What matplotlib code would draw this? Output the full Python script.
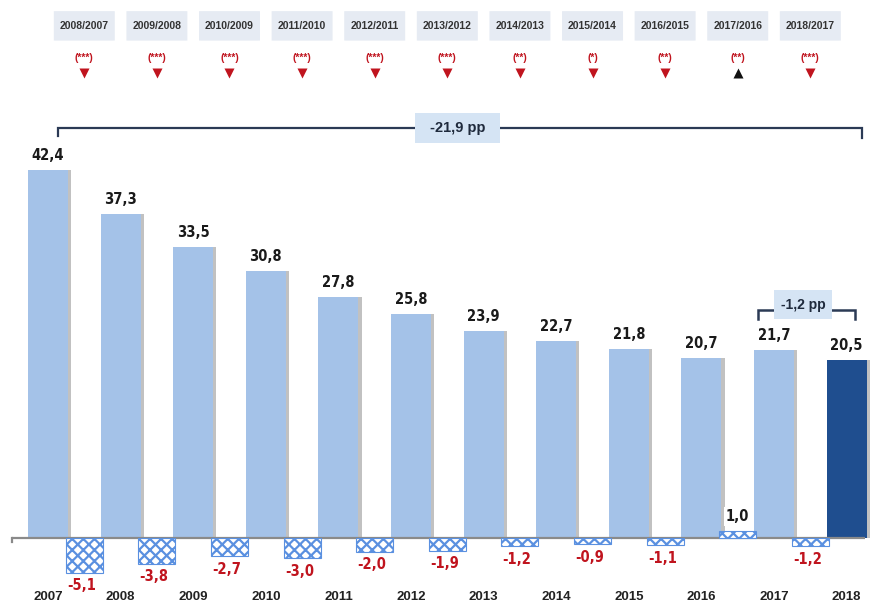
import matplotlib
matplotlib.use("Agg")
import matplotlib.pyplot as plt
from matplotlib.patches import FancyBboxPatch, Rectangle

# taxa anual (%) e variação face ao ano anterior (pp)
anos = ["2007", "2008", "2009", "2010", "2011", "2012",
        "2013", "2014", "2015", "2016", "2017", "2018"]
taxas = [42.4, 37.3, 33.5, 30.8, 27.8, 25.8, 23.9, 22.7, 21.8, 20.7, 21.7, 20.5]
variacoes = [-5.1, -3.8, -2.7, -3.0, -2.0, -1.9, -1.2, -0.9, -1.1, 1.0, -1.2]
periodos = ["2008/2007", "2009/2008", "2010/2009", "2011/2010", "2012/2011",
            "2013/2012", "2014/2013", "2015/2014", "2016/2015", "2017/2016",
            "2018/2017"]
signif = ["(***)", "(***)", "(***)", "(***)", "(***)", "(***)",
          "(**)", "(*)", "(**)", "(**)", "(***)"]
total_pp = "-21,9 pp"
ultimo_pp = "-1,2 pp"

AZUL = "#a4c2e8"
AZUL_ESC = "#1f4e8f"
VERMELHO = "#c0141e"
NARROW = ["Liberation Sans Narrow", "DejaVu Sans"]
SANS = ["Liberation Sans", "DejaVu Sans"]

plt.rcParams["hatch.linewidth"] = 1.6


def fmt(v):
    return f"{v:.1f}".replace(".", ",")


def caixa(ax, xc, yc, w, h, texto, fs):
    ax.add_patch(Rectangle((xc - w / 2, yc - h / 2), w, h, fc="#d5e4f4",
                           ec="none", zorder=3))
    ax.text(xc, yc, texto, ha="center", va="center", fontsize=fs,
            fontweight="bold", color="#1f2a3c", family=SANS, zorder=4)


fig = plt.figure(figsize=(8.74, 6.06), dpi=100)
ax = fig.add_axes([0, 0, 1, 1])
ax2 = fig.add_axes([0, 0, 1, 1], sharex=ax)
ax2.patch.set_visible(False)
for a in (ax, ax2):
    a.axis("off")

ax.set_xlim(-0.661, 11.377)
ax.set_ylim(-7.83, 61.98)
ax2.set_ylim(-10.0, 79.1)

x = list(range(len(anos)))
cores = [AZUL] * (len(anos) - 1) + [AZUL_ESC]

# sombra + barras das taxas
ax.bar([i + 0.045 for i in x], taxas, width=0.55, color="#8f8f8f", alpha=0.55, zorder=1)
ax.bar(x, taxas, width=0.55, color=cores, zorder=2)
for i, v in zip(x, taxas):
    ax.annotate(fmt(v), (i, v), xytext=(0, 5), textcoords="offset points",
                ha="center", va="bottom", fontsize=10.5, fontweight="bold",
                fontstretch="condensed", color="#1a1a1a", family=NARROW)

# barras das variações (eixo próprio, mesma linha do zero)
xv = [i + 0.5 for i in range(len(variacoes))]
ax2.bar(xv, variacoes, width=0.51, color="white", edgecolor="#5a90e0",
        hatch="xxx", linewidth=0.8, zorder=3)
for xi, v in zip(xv, variacoes):
    if v < 0:
        ax2.annotate(fmt(v), (xi, v), xytext=(-2, -4), textcoords="offset points",
                     ha="center", va="top", fontsize=10.5, fontweight="bold",
                     fontstretch="condensed", color=VERMELHO, family=NARROW)
    else:
        ax2.annotate(fmt(v), (xi, v), xytext=(0, 5), textcoords="offset points",
                     ha="center", va="bottom", fontsize=10.5, fontweight="bold",
                     fontstretch="condensed", color="#1a1a1a", family=NARROW,
                     bbox=dict(boxstyle="square,pad=0.15", fc="white", ec="none"))

# linha de base
ax.plot([-0.49, 11.25], [0, 0], color="#8a8a8a", lw=1.6, zorder=4, solid_capstyle="butt")
ax.plot([-0.49, -0.49], [0, -0.5], color="#8a8a8a", lw=1.6, zorder=4)

for i, a in zip(x, anos):
    ax.text(i, -6.8, a, ha="center", va="center", fontsize=9.5,
            fontweight="bold", color="#222222", family=SANS)

# caixas dos períodos e significância
for xi, p, s, v in zip(xv, periodos, signif, variacoes):
    ax.add_patch(FancyBboxPatch((xi - 0.42, 57.3), 0.84, 3.4,
                                boxstyle="round,pad=0,rounding_size=0.08",
                                fc="#e6ebf3", ec="none", mutation_aspect=1 / 8,
                                zorder=1))
    ax.text(xi, 59.0, p, ha="center", va="center", fontsize=7.5,
            fontweight="bold", color="#333333", family=SANS)
    ax.text(xi, 55.3, s, ha="center", va="center", fontsize=7.5,
            fontweight="bold", color=VERMELHO, family=SANS)
    if v < 0:
        ax.plot(xi, 53.6, marker="v", ms=6.5, color=VERMELHO, mec="none")
    else:
        ax.plot(xi, 53.6, marker="^", ms=6.5, color="#111111", mec="none")

# chaveta do período completo
yb = 47.2
ax.plot([0.14, 0.14, 11.21, 11.21], [yb - 0.9, yb, yb, yb - 1.1],
        color="#2b3a55", lw=1.6, solid_joinstyle="miter", zorder=2)
caixa(ax, 5.64, yb, 1.17, 3.46, total_pp, 10.5)

# chaveta do último ano
ys = 26.3
ax.plot([9.78, 9.78, 11.12, 11.12], [ys - 1.1, ys, ys, ys - 1.1],
        color="#2b3a55", lw=1.8, solid_joinstyle="miter", zorder=2)
caixa(ax, 10.40, 26.9, 0.81, 3.34, ultimo_pp, 10)

fig.savefig("out.png", dpi=100, facecolor="white")
